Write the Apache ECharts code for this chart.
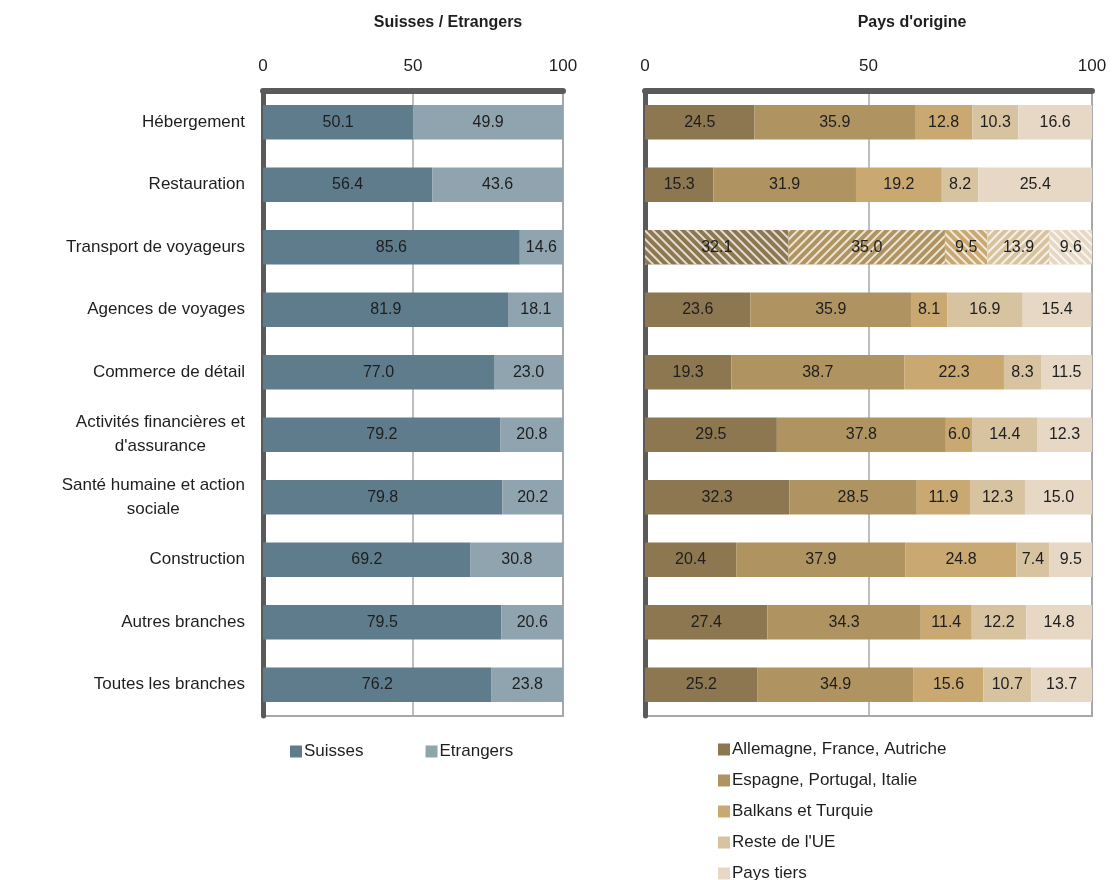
<!DOCTYPE html>
<html>
<head>
<meta charset="utf-8">
<script src="https://cdn.jsdelivr.net/npm/echarts@6/dist/echarts.min.js"></script>
<style>
  html, body { margin: 0; padding: 0; background: #fff; }
  #chart { width: 1114px; height: 880px; }
</style>
</head>
<body>
<div id="chart"></div>
<script>
// branches (du haut vers le bas)
const categories = [
  'Hébergement',
  'Restauration',
  'Transport de voyageurs',
  'Agences de voyages',
  'Commerce de détail',
  'Activités financières et\nd\'assurance',
  'Santé humaine et action\nsociale',
  'Construction',
  'Autres branches',
  'Toutes les branches'
];
const xTicks = [0, 50, 100];

// Suisses / Etrangers
const suisses = [50.1, 56.4, 85.6, 81.9, 77.0, 79.2, 79.8, 69.2, 79.5, 76.2];
const etrangers = [49.9, 43.6, 14.6, 18.1, 23.0, 20.8, 20.2, 30.8, 20.6, 23.8];

// Pays d'origine
const allemagne = [24.5, 15.3, 32.1, 23.6, 19.3, 29.5, 32.3, 20.4, 27.4, 25.2];
const espagne = [35.9, 31.9, 35.0, 35.9, 38.7, 37.8, 28.5, 37.9, 34.3, 34.9];
const balkans = [12.8, 19.2, 9.5, 8.1, 22.3, 6.0, 11.9, 24.8, 11.4, 15.6];
const resteUE = [10.3, 8.2, 13.9, 16.9, 8.3, 14.4, 12.3, 7.4, 12.2, 10.7];
const paysTiers = [16.6, 25.4, 9.6, 15.4, 11.5, 12.3, 15.0, 9.5, 14.8, 13.7];

const hatchedRow = 2; // Transport de voyageurs : hachuré
const font = '"Liberation Sans", Arial, sans-serif';
const textColor = '#1e1e1e';

const chart = echarts.init(document.getElementById('chart'));

function valueLabel() {
  return {
    show: true,
    position: 'inside',
    color: textColor,
    fontSize: 16,
    fontFamily: font,
    formatter: (p) => Number(p.value).toFixed(1)
  };
}

function makeData(values, rot) {
  return values.map((v, i) => {
    if (i !== hatchedRow) return v;
    return {
      value: v,
      itemStyle: {
        decal: {
          symbol: 'rect',
          symbolSize: 1,
          dashArrayX: [1, 0],
          dashArrayY: [2, 4],
          rotation: rot,
          color: 'rgba(255,255,255,0.75)'
        }
      }
    };
  });
}

function barSeries(name, values, color, axisIdx, rot) {
  return {
    name: name,
    type: 'bar',
    stack: 'g' + axisIdx,
    xAxisIndex: axisIdx,
    yAxisIndex: axisIdx,
    barWidth: '55%',
    itemStyle: { color: color },
    label: valueLabel(),
    data: axisIdx === 1 ? makeData(values, rot) : values
  };
}

function xAxis(gridIdx) {
  return {
    type: 'value',
    gridIndex: gridIdx,
    position: 'top',
    min: 0,
    max: 100,
    interval: 50,
    axisLine: { show: true, lineStyle: { color: '#5a5a5a', width: 6 } },
    axisTick: { show: false },
    axisLabel: {
      color: textColor,
      fontSize: 17,
      fontFamily: font,
      margin: 16,
      formatter: (v) => xTicks.indexOf(v) >= 0 ? String(v) : ''
    },
    splitLine: { show: true, lineStyle: { color: '#a8a8a8', width: 1.5 } }
  };
}

function yAxis(gridIdx, showLabels) {
  return {
    type: 'category',
    gridIndex: gridIdx,
    inverse: true,
    data: categories,
    axisLine: { show: true, lineStyle: { color: '#5a5a5a', width: 5 } },
    axisTick: { show: false },
    axisLabel: {
      show: showLabels,
      margin: 18,
      color: textColor,
      fontSize: 17,
      fontFamily: font,
      lineHeight: 24,
      formatter: (v) => v.split('\n').map((l) => '{c|' + l + '}').join('\n'),
      rich: { c: { align: 'center', fontSize: 17, fontFamily: font, color: textColor, lineHeight: 24 } }
    }
  };
}

const option = {
  backgroundColor: '#fff',
  animation: false,
  title: [
    {
      text: 'Suisses / Etrangers',
      left: 443,
      top: 10,
      textAlign: 'center',
      textStyle: { fontSize: 16, fontWeight: 'bold', fontFamily: font, color: textColor }
    },
    {
      text: 'Pays d\'origine',
      left: 907,
      top: 10,
      textAlign: 'center',
      textStyle: { fontSize: 16, fontWeight: 'bold', fontFamily: font, color: textColor }
    }
  ],
  legend: [
    {
      data: ['Suisses', 'Etrangers'],
      left: 285,
      top: 738,
      itemWidth: 12,
      itemHeight: 12,
      itemGap: 62,
      icon: 'rect',
      textStyle: { fontSize: 17, fontFamily: font, color: textColor, padding: [0, 0, 0, -3] }
    },
    {
      data: ['Allemagne, France, Autriche', 'Espagne, Portugal, Italie', 'Balkans et Turquie', 'Reste de l\'UE', 'Pays tiers'],
      orient: 'vertical',
      left: 713,
      top: 741,
      height: 160,
      padding: [0, 5],
      itemWidth: 12,
      itemHeight: 12,
      itemGap: 14,
      icon: 'rect',
      textStyle: { fontSize: 17, fontFamily: font, color: textColor, padding: [0, 0, 0, -3] }
    }
  ],
  grid: [
    { left: 263, right: 551, top: 91, bottom: 164, show: true, borderColor: '#a8a8a8', borderWidth: 2 },
    { left: 645, right: 22, top: 91, bottom: 164, show: true, borderColor: '#a8a8a8', borderWidth: 2 }
  ],
  xAxis: [xAxis(0), xAxis(1)],
  yAxis: [yAxis(0, true), yAxis(1, false)],
  series: [
    barSeries('Suisses', suisses, '#5f7c8d', 0),
    barSeries('Etrangers', etrangers, '#90a4b0', 0),
    barSeries('Allemagne, France, Autriche', allemagne, '#8d7750', 1, Math.PI / 4),
    barSeries('Espagne, Portugal, Italie', espagne, '#af9461', 1, -Math.PI / 4),
    barSeries('Balkans et Turquie', balkans, '#c9a871', 1, Math.PI / 4),
    barSeries('Reste de l\'UE', resteUE, '#d8c3a1', 1, -Math.PI / 4),
    barSeries('Pays tiers', paysTiers, '#e6d8c5', 1, Math.PI / 4)
  ]
};

chart.setOption(option);
</script>
</body>
</html>
